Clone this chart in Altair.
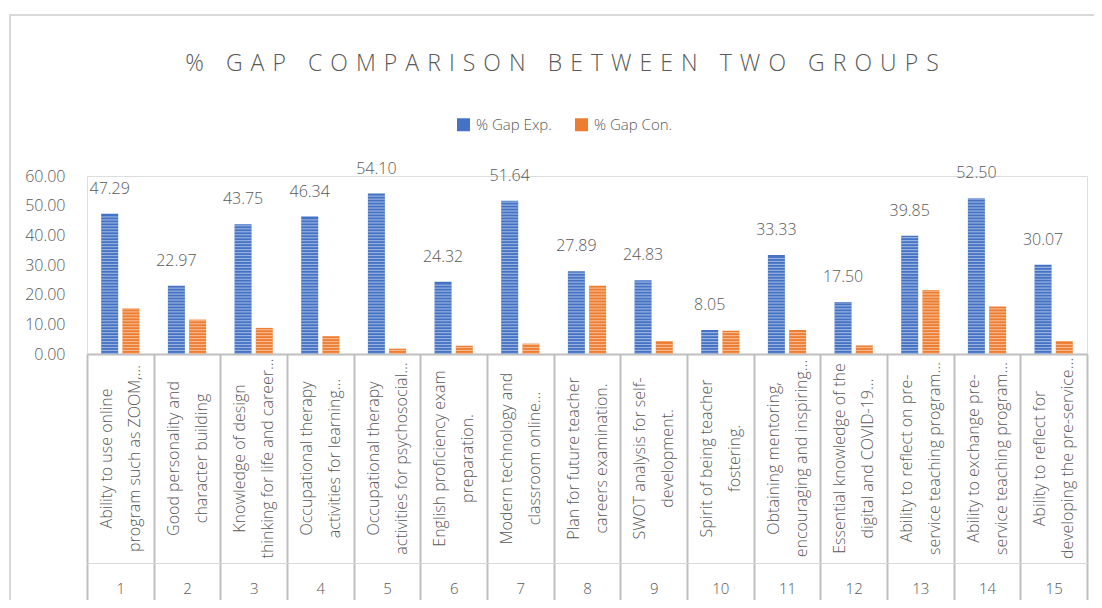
import altair as alt
import pandas as pd

# ---- data ----
nums = [str(i) for i in range(1, 16)]
labels = [
    "Ability to use online|program such as ZOOM,…",
    "Good personality and|character building",
    "Knowledge of design|thinking for life and career…",
    "Occupational therapy|activities for learning…",
    "Occupational therapy|activities for psychosocial…",
    "English proficiency exam|preparation.",
    "Modern technology and|classroom online…",
    "Plan for future teacher|careers examination.",
    "SWOT analysis for self-|development.",
    "Spirit of being teacher|fostering.",
    "Obtaining mentoring,|encouraging and inspiring…",
    "Essential knowledge of the|digital and COVID-19…",
    "Ability to reflect on pre-|service teaching program…",
    "Ability to exchange pre-|service teaching program…",
    "Ability to reflect for|developing the pre-service…",
]
exp_vals = [47.29, 22.97, 43.75, 46.34, 54.10, 24.32, 51.64, 27.89, 24.83, 8.05, 33.33, 17.50, 39.85, 52.50, 30.07]
con_vals = [15.4, 11.6, 8.8, 6.0, 1.8, 2.8, 3.5, 23.0, 4.3, 7.8, 8.1, 2.9, 21.6, 16.0, 4.3]
series = ["% Gap Exp.", "% Gap Con."]
colors = ["#4472C4", "#ED7D31"]
title_text = "% GAP COMPARISON BETWEEN TWO GROUPS"
y_ticks = [0, 10, 20, 30, 40, 50, 60]

rows = []
for n, lab, e, c in zip(nums, labels, exp_vals, con_vals):
    rows.append({"num": n, "label": lab, "series": series[0], "value": e})
    rows.append({"num": n, "label": lab, "series": series[1], "value": c})
df = pd.DataFrame(rows)

# letter-spaced title (Vega text has no letter-spacing property)
SP = "\u2005\u200a"
spaced_title = (SP + " " + SP).join(SP.join(list(w)) for w in title_text.split(" "))

W, H = 1000, 178
FONT = "Open Sans"
GRAY = "#595959"
LINE = "#BFBFBF"

xscale = alt.Scale(paddingInner=0, paddingOuter=0)
offscale = alt.Scale(domain=series, paddingInner=0.2, paddingOuter=0.67)
yscale = alt.Scale(domain=[0, 60], nice=False)

yaxis = alt.Axis(title=None, values=y_ticks, format=".2f", grid=False, domain=False, ticks=False,
                 labelPadding=22, labelFontSize=16, labelFont=FONT, labelFontWeight=300, labelColor=GRAY)

x1 = alt.X("label:N", sort=None, scale=xscale,
           axis=alt.Axis(orient="bottom", title=None, labelExpr="split(datum.label, '|')",
                         labelAngle=270, labelAlign="center", labelBaseline="middle",
                         labelPadding=-105, labelOffset=-14, labelLineHeight=28, labelFontSize=16,
                         labelFont=FONT, labelFontWeight=300, labelColor=GRAY, labelOverlap=False,
                         labelLimit=400, domainColor=LINE, domainWidth=2, ticks=True,
                         tickBand="extent", tickSize=209, tickColor=LINE, tickWidth=2))
x2 = alt.X("num:N", sort=None, scale=xscale,
           axis=alt.Axis(orient="bottom", offset=209, title=None, labelAngle=0,
                         labelAlign="center", labelBaseline="middle", labelPadding=-15,
                         labelFontSize=15, labelFont=FONT, labelFontWeight=300, labelColor=GRAY,
                         domainColor="#D9D9D9", domainWidth=1, ticks=True, tickBand="extent",
                         tickSize=40, tickColor=LINE, tickWidth=2))
xoff = alt.XOffset("series:N", scale=offscale)

bars = alt.Chart(df).mark_bar().encode(
    x=x1, xOffset=xoff,
    y=alt.Y("value:Q", scale=yscale, axis=yaxis),
    color=alt.Color("series:N", scale=alt.Scale(domain=series, range=colors),
                    legend=alt.Legend(orient="none", legendX=369, legendY=-59, direction="horizontal",
                                      title=None, symbolType="square", symbolSize=169,
                                      symbolStrokeWidth=0, labelFontSize=15, labelFont=FONT,
                                      labelFontWeight=300, labelColor=GRAY, columnPadding=22,
                                      labelOffset=5, padding=0)),
)

stripes = alt.Chart(df).transform_calculate(
    seq="sequence(0, datum.value, 1)"
).transform_flatten(["seq"]).transform_calculate(
    s2="datum.seq + 0.4"
).transform_filter("datum.s2 <= datum.value").mark_bar(color="white", opacity=0.45).encode(
    x=x1, xOffset=xoff,
    y=alt.Y("seq:Q", scale=yscale, axis=yaxis),
    y2="s2:Q",
)

frame = alt.Chart(alt.Data(values=[{"k": 1}])).mark_rect(
    fillOpacity=0, stroke="#D9D9D9", strokeWidth=2
).encode(x=alt.value(-77), x2=alt.value(1015), y=alt.value(-161), y2=alt.value(430))

inner = alt.layer(frame, bars, stripes)

vlabels = alt.Chart(df).transform_filter(alt.datum.series == series[0]).mark_text(
    dy=-20, baseline="alphabetic", fontSize=16, font=FONT, fontWeight=300, color=GRAY
).encode(
    x=x2, xOffset=xoff,
    y=alt.Y("value:Q", scale=yscale, axis=yaxis),
    text=alt.Text("value:Q", format=".2f"),
)

title = alt.Chart(alt.Data(values=[{"t": spaced_title}])).mark_text(
    fontSize=23, font=FONT, fontWeight=300, color=GRAY, align="center", baseline="alphabetic"
).encode(x=alt.value(475), y=alt.value(-105), text="t:N")

chart = alt.layer(inner, vlabels, title).resolve_scale(x="independent").properties(
    width=W, height=H, autosize="none",
    padding={"left": 79, "top": 168, "right": 7, "bottom": 246},
).configure_view(stroke="transparent").configure(background="white")

chart.save("out.html", embed_options={"renderer": "svg", "actions": False})
